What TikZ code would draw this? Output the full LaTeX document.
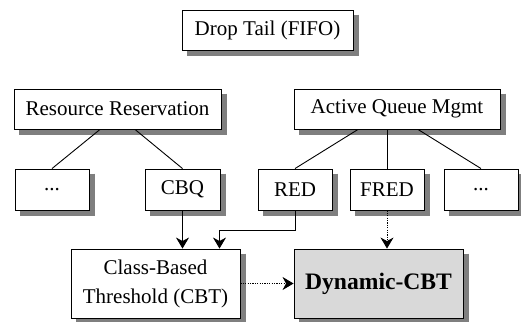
\documentclass[tikz,border=0pt]{standalone}
\usepackage{fontspec}
\setmainfont{Liberation Serif}
\usetikzlibrary{arrows.meta,calc}
\definecolor{dynfill}{HTML}{D9D9D9}
\definecolor{shadowcol}{HTML}{7F7F7F}
\tikzset{
  box/.style={draw=black, line width=0.9pt, fill=white, inner sep=0pt,
    font=\fontsize{21}{29}\selectfont, align=center},
  conn/.style={line width=0.9pt, draw=black},
  arr/.style={conn, -{Stealth[length=11pt,width=13pt,inset=3.5pt]}},
  dotarr/.style={arr, dash pattern=on 1.2pt off 1.2pt},
  shadowline/.style={draw=shadowcol, line width=5pt, line cap=butt, line join=miter}
}
\begin{document}
\begin{tikzpicture}[x=1pt,y=-1pt]
\useasboundingbox (0,0) rectangle (521,321);
% boxes
\node[box, minimum width=171pt, minimum height=40pt] (drop) at (267.5,30) {Drop Tail (FIFO)};
\node[box, minimum width=207pt, minimum height=40pt] (rr) at (117.5,109) {Resource Reservation};
\node[box, minimum width=206pt, minimum height=40pt] (aqm) at (397,109) {Active Queue Mgmt};
\node[box, minimum width=74pt, minimum height=41pt] (dots1) at (52,189.5) {...};
\node[box, minimum width=75pt, minimum height=41pt] (cbq) at (182.5,189.5) {CBQ};
\node[box, minimum width=74pt, minimum height=41pt] (red) at (295,189.5) {RED};
\node[box, minimum width=74pt, minimum height=41pt] (fred) at (387,189.5) {FRED};
\node[box, minimum width=74pt, minimum height=41pt] (dots2) at (481,189.5) {...};
\node[box, minimum width=169pt, minimum height=69pt] (cbt) at (155.5,283.5) {Class-Based\\Threshold (CBT)};
\node[box, fill=dynfill, minimum width=169pt, minimum height=69pt, font=\fontsize{23.6}{28}\selectfont\bfseries] (dyn) at (378.5,283.5) {Dynamic-CBT};
% shadows as thick strokes along right and bottom edges
\foreach \n in {drop,rr,aqm,dots1,cbq,red,fred,dots2,cbt,dyn}{
  \draw[shadowline] ($(\n.north east)+(3,5)$) -- ($(\n.south east)+(3,3)$) -- ($(\n.south west)+(5,3)$);
}
% tree connectors
\draw[conn] ($(rr.south)+(-17.5,0)$) -- (dots1.north);
\draw[conn] ($(rr.south)+(17.5,0)$) -- (cbq.north);
\draw[conn] ($(aqm.south)+(-39,0)$) -- (red.north);
\draw[conn] (aqm.south -| fred.north) -- (fred.north);
\draw[conn] ($(aqm.south)+(21,0)$) -- (dots2.north);
% arrows
\draw[arr] (cbq.south) -- (cbq.south |- cbt.north);
\coordinate (redin) at ($(cbt.north)+(64,0)$);
\draw[arr] (red.south) -- ++(0,19.5) -| (redin);
\draw[dotarr] (fred.south) -- (fred.south |- dyn.north);
\draw[dotarr] (cbt.east) -- (dyn.west);
\end{tikzpicture}
\end{document}
